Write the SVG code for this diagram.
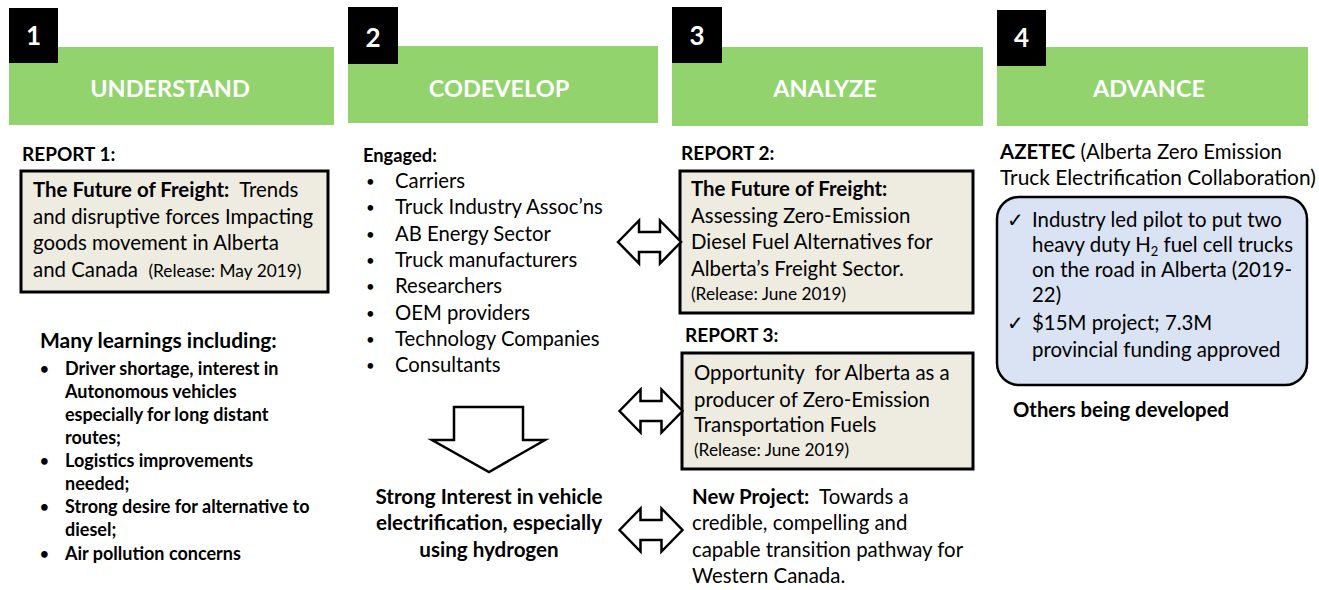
<svg xmlns="http://www.w3.org/2000/svg" width="1319" height="590" viewBox="0 0 1319 590">
  <style>
    text { font-family: Lato, "Open Sans", "Liberation Sans", sans-serif; fill: #000; }
    .num { font-size: 26px; font-weight: bold; fill: #fff; text-anchor: middle; }
    .hdr { font-size: 23.5px; font-weight: bold; fill: #fff; text-anchor: middle; }
    .lbl { font-size: 19px; font-weight: bold; }
    .body { font-size: 20.4px; }
    .small { font-size: 17.3px; }
    .list { font-size: 18px; font-weight: bold; }
    .dot { font-size: 15px; }
    .eng { font-size: 20.3px; }
    .b { font-weight: bold; }
    .report { fill: #EEECE1; stroke: #000; stroke-width: 3; }
    .green { fill: #92D36E; }
    .black { fill: #000; }
    .conn { fill: #fff; stroke: #000; stroke-width: 2.5; stroke-linejoin: miter; }
  </style>
  <defs>
    <!-- double-headed block arrow centred on the origin -->
    <path id="dbl" d="M-31.5,0 L-10.5,-21.5 L-10.5,-10 L10.5,-10 L10.5,-21.5 L31.5,0 L10.5,21.5 L10.5,10 L-10.5,10 L-10.5,21.5 Z"/>
  </defs>
  <rect width="1319" height="590" fill="#fff"/>

  <!-- step headers -->
  <g id="step1">
    <rect class="green" x="9" y="47" width="325" height="78"/>
    <rect class="black" x="9" y="8" width="49" height="55"/>
    <text class="num" x="33.5" y="45">1</text>
    <text class="hdr" x="170" y="97">UNDERSTAND</text>
  </g>
  <g id="step2">
    <rect class="green" x="348" y="46" width="310" height="77"/>
    <rect class="black" x="348" y="7" width="50" height="57"/>
    <text class="num" x="373" y="47">2</text>
    <text class="hdr" x="499" y="97">CODEVELOP</text>
  </g>
  <g id="step3">
    <rect class="green" x="672" y="47" width="311" height="79"/>
    <rect class="black" x="672" y="7" width="50" height="56"/>
    <text class="num" x="697" y="45">3</text>
    <text class="hdr" x="825" y="97">ANALYZE</text>
  </g>
  <g id="step4">
    <rect class="green" x="997" y="47" width="311" height="79"/>
    <rect class="black" x="997" y="10" width="49" height="56"/>
    <text class="num" x="1021.5" y="47">4</text>
    <text class="hdr" x="1149" y="97">ADVANCE</text>
  </g>

  <!-- column 1: understand -->
  <g id="report1">
    <text class="lbl" x="22" y="161">REPORT 1:</text>
    <rect class="report" x="21" y="171" width="307" height="121"/>
    <text class="body" x="33" y="197"><tspan class="b">The Future of Freight:</tspan>&#160; Trends</text>
    <text class="body" x="33" y="224">and disruptive forces Impacting</text>
    <text class="body" x="33" y="250">goods movement in Alberta</text>
    <text class="body" x="33" y="277">and Canada&#160; <tspan class="small">(Release: May 2019)</tspan></text>
  </g>
  <g id="learnings">
    <text class="lbl" x="40" y="348" style="font-size:21px">Many learnings including:</text>
    <g class="list">
      <text class="dot" x="40" y="374">•</text>
      <text x="65" y="375">Driver shortage, interest in</text>
      <text x="65" y="398">Autonomous vehicles</text>
      <text x="65" y="421">especially for long distant</text>
      <text x="65" y="444">routes;</text>
      <text class="dot" x="40" y="466">•</text>
      <text x="65" y="467">Logistics improvements</text>
      <text x="65" y="490">needed;</text>
      <text class="dot" x="40" y="512">•</text>
      <text x="65" y="513">Strong desire for alternative to</text>
      <text x="65" y="536">diesel;</text>
      <text class="dot" x="40" y="559">•</text>
      <text x="65" y="560">Air pollution concerns</text>
    </g>
  </g>

  <!-- column 2: codevelop -->
  <g id="engaged">
    <text x="363" y="162" style="font-size:18.3px;font-weight:bold">Engaged:</text>
    <g class="eng">
      <text class="dot" x="366" y="187">•</text><text x="395" y="188">Carriers</text>
      <text class="dot" x="366" y="213">•</text><text x="395" y="214">Truck Industry Assoc’ns</text>
      <text class="dot" x="366" y="240">•</text><text x="395" y="241">AB Energy Sector</text>
      <text class="dot" x="366" y="266">•</text><text x="395" y="267">Truck manufacturers</text>
      <text class="dot" x="366" y="292">•</text><text x="395" y="293">Researchers</text>
      <text class="dot" x="366" y="319">•</text><text x="395" y="320">OEM providers</text>
      <text class="dot" x="366" y="345">•</text><text x="395" y="346">Technology Companies</text>
      <text class="dot" x="366" y="371">•</text><text x="395" y="372">Consultants</text>
    </g>
  </g>
  <g id="interest">
    <text class="lbl" x="489" y="504" text-anchor="middle" style="font-size:20.6px">Strong Interest in vehicle</text>
    <text class="lbl" x="489" y="530" text-anchor="middle" style="font-size:20.6px">electrification, especially</text>
    <text class="lbl" x="489" y="557" text-anchor="middle" style="font-size:20.6px">using hydrogen</text>
  </g>

  <!-- column 3: analyze -->
  <g id="report2">
    <text class="lbl" x="681" y="160">REPORT 2:</text>
    <rect class="report" x="680" y="171" width="293" height="142"/>
    <text class="body b" x="691" y="196">The Future of Freight:</text>
    <text class="body" x="691" y="223">Assessing Zero-Emission</text>
    <text class="body" x="691" y="249">Diesel Fuel Alternatives for</text>
    <text class="body" x="691" y="276">Alberta’s Freight Sector.</text>
    <text class="small" x="691" y="300">(Release: June 2019)</text>
  </g>
  <g id="report3">
    <text class="lbl" x="685" y="342">REPORT 3:</text>
    <rect class="report" x="682" y="353" width="291" height="116"/>
    <text class="body" x="694" y="380">Opportunity&#160; for Alberta as a</text>
    <text class="body" x="694" y="407">producer of Zero-Emission</text>
    <text class="body" x="694" y="432">Transportation Fuels</text>
    <text class="small" x="694" y="456">(Release: June 2019)</text>
  </g>
  <g id="newproject">
    <text class="body" x="692" y="504"><tspan class="b">New Project:</tspan>&#160; Towards a</text>
    <text class="body" x="692" y="530">credible, compelling and</text>
    <text class="body" x="692" y="557">capable transition pathway for</text>
    <text class="body" x="692" y="583">Western Canada.</text>
  </g>

  <!-- column 4: advance -->
  <g id="azetec">
    <text class="body" x="1000" y="159"><tspan class="b">AZETEC</tspan> (Alberta Zero Emission</text>
    <text class="body" x="1000" y="185" style="font-size:20.9px">Truck Electrification Collaboration)</text>
    <rect x="997" y="197" width="310" height="188" rx="22" fill="#DAE3F3" stroke="#000" stroke-width="2.5"/>
    <text class="body" x="1007" y="227">✓</text>
    <text class="body" x="1032" y="227">Industry led pilot to put two</text>
    <text class="body" x="1032" y="252">heavy duty H<tspan style="font-size:13px" dy="4">2</tspan><tspan dy="-4"> fuel cell trucks</tspan></text>
    <text class="body" x="1032" y="277">on the road in Alberta (2019-</text>
    <text class="body" x="1032" y="302">22)</text>
    <text class="body" x="1007" y="330">✓</text>
    <text class="body" x="1032" y="330">$15M project; 7.3M</text>
    <text class="body" x="1032" y="357">provincial funding approved</text>
  </g>
  <g id="others">
    <text class="lbl" x="1013" y="417" style="font-size:20.3px">Others being developed</text>
  </g>

  <!-- block arrows -->
  <g id="connectors">
    <path class="conn" d="M454,407 L523,407 L523,440 L545,440 L489,472 L432,440 L454,440 Z"/>
    <use href="#dbl" class="conn" x="649.5" y="242"/>
    <use href="#dbl" class="conn" x="651" y="411"/>
    <use href="#dbl" class="conn" x="651" y="530"/>
  </g>
</svg>
